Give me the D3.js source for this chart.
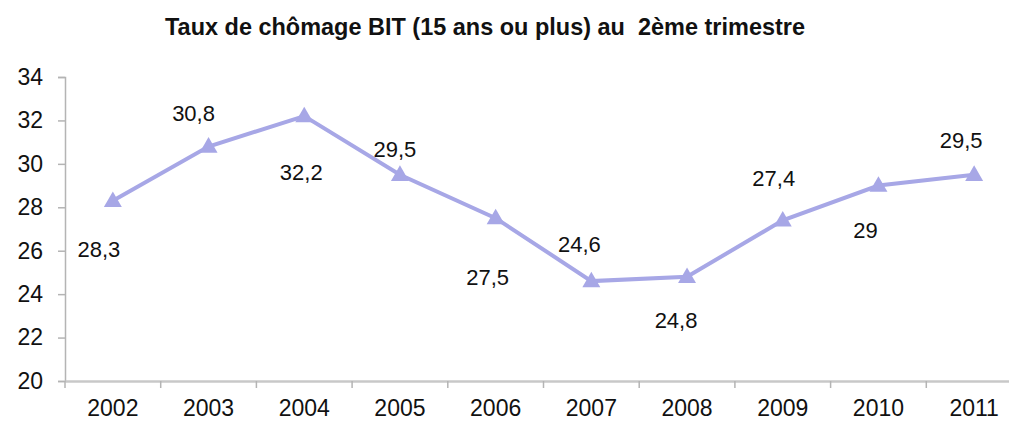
<!DOCTYPE html>
<html>
<head>
<meta charset="utf-8">
<script src="https://cdn.jsdelivr.net/npm/d3@7"></script>
<style>
  body { margin: 0; background: #fff; }
  text { font-family: "Liberation Sans", Arial, sans-serif; fill: #111; }
</style>
</head>
<body>
<div id="chart"></div>
<script>
// Data
var years = ["2002", "2003", "2004", "2005", "2006", "2007", "2008", "2009", "2010", "2011"];
var rates = [28.3, 30.8, 32.2, 29.5, 27.5, 24.6, 24.8, 27.4, 29, 29.5];
var yTicks = [20, 22, 24, 26, 28, 30, 32, 34];

// label placement (offset from the marker, as in the original chart)
var labelDx = [-14, -15, -3, -5, -8, -12, -11, -9, -13, -13];
var labelDy = [56, -25, 64, -18, 67, -29, 51, -34, 52, -27];

var width = 1009, height = 421;

var svg = d3.select("#chart")
  .append("svg")
    .attr("width", width)
    .attr("height", height);

//Scales
var x = d3.scaleBand()
  .domain(years)
  .range([65, 1022]);

var y = d3.scaleLinear()
  .domain([20, 34])
  .range([381, 77]);

//Title
svg.append("text")
  .attr("x", 485)
  .attr("y", 35)
  .attr("text-anchor", "middle")
  .attr("textLength", 640)
  .attr("lengthAdjust", "spacingAndGlyphs")
  .style("white-space", "pre")
  .style("font-size", "24px")
  .style("font-weight", "bold")
  .text("Taux de chômage BIT (15 ans ou plus) au  2ème trimestre");

//Y Axis
var yAxis = svg.append("g")
  .attr("transform", "translate(65,0)")
  .call(d3.axisLeft(y).tickValues(yTicks).tickSize(7).tickPadding(15));
yAxis.select(".domain").attr("stroke", "#b4b4b4").attr("stroke-width", 1.5);
yAxis.selectAll(".tick line").attr("stroke", "#b4b4b4").attr("stroke-width", 1.5);
yAxis.selectAll("text")
  .style("font-size", "23px")
  .attr("fill", "#111");

//X Axis
var xAxis = svg.append("g")
  .attr("transform", "translate(0,381)")
  .call(d3.axisBottom(x).tickSize(0).tickPadding(19).tickSizeOuter(0));
xAxis.select(".domain").attr("stroke", "#c8c8c8").attr("stroke-width", 2.5);
xAxis.selectAll("text")
  .style("font-size", "23px")
  .attr("fill", "#111");

// tick marks between categories
xAxis.selectAll(".sep")
  .data(years)
  .enter()
  .append("line")
    .attr("class", "sep")
    .attr("x1", function(d) { return x(d); })
    .attr("x2", function(d) { return x(d); })
    .attr("y1", 0)
    .attr("y2", 7)
    .attr("stroke", "#b4b4b4")
    .attr("stroke-width", 1.5);

var cx = function(i) { return x(years[i]) + x.bandwidth() / 2; };

//Line
var line = d3.line()
  .x(function(d, i) { return cx(i); })
  .y(function(d) { return y(d); });

svg.append("path")
  .datum(rates)
  .attr("fill", "none")
  .attr("stroke", "#a7a7e6")
  .attr("stroke-width", 4)
  .attr("d", line);

//Markers
svg.selectAll(".marker")
  .data(rates)
  .enter()
  .append("path")
    .attr("class", "marker")
    .attr("d", d3.symbol().type(d3.symbolTriangle).size(140))
    .attr("transform", function(d, i) { return "translate(" + cx(i) + "," + (y(d) + 1) + ")"; })
    .attr("fill", "#a7a7e6");

//Labels
svg.selectAll(".lbl")
  .data(rates)
  .enter()
  .append("text")
    .attr("class", "lbl")
    .attr("x", function(d, i) { return cx(i) + labelDx[i]; })
    .attr("y", function(d, i) { return y(d) + labelDy[i]; })
    .attr("text-anchor", "middle")
    .style("font-size", "22px")
    .text(function(d) { return String(d).replace(".", ","); });
</script>
</body>
</html>
